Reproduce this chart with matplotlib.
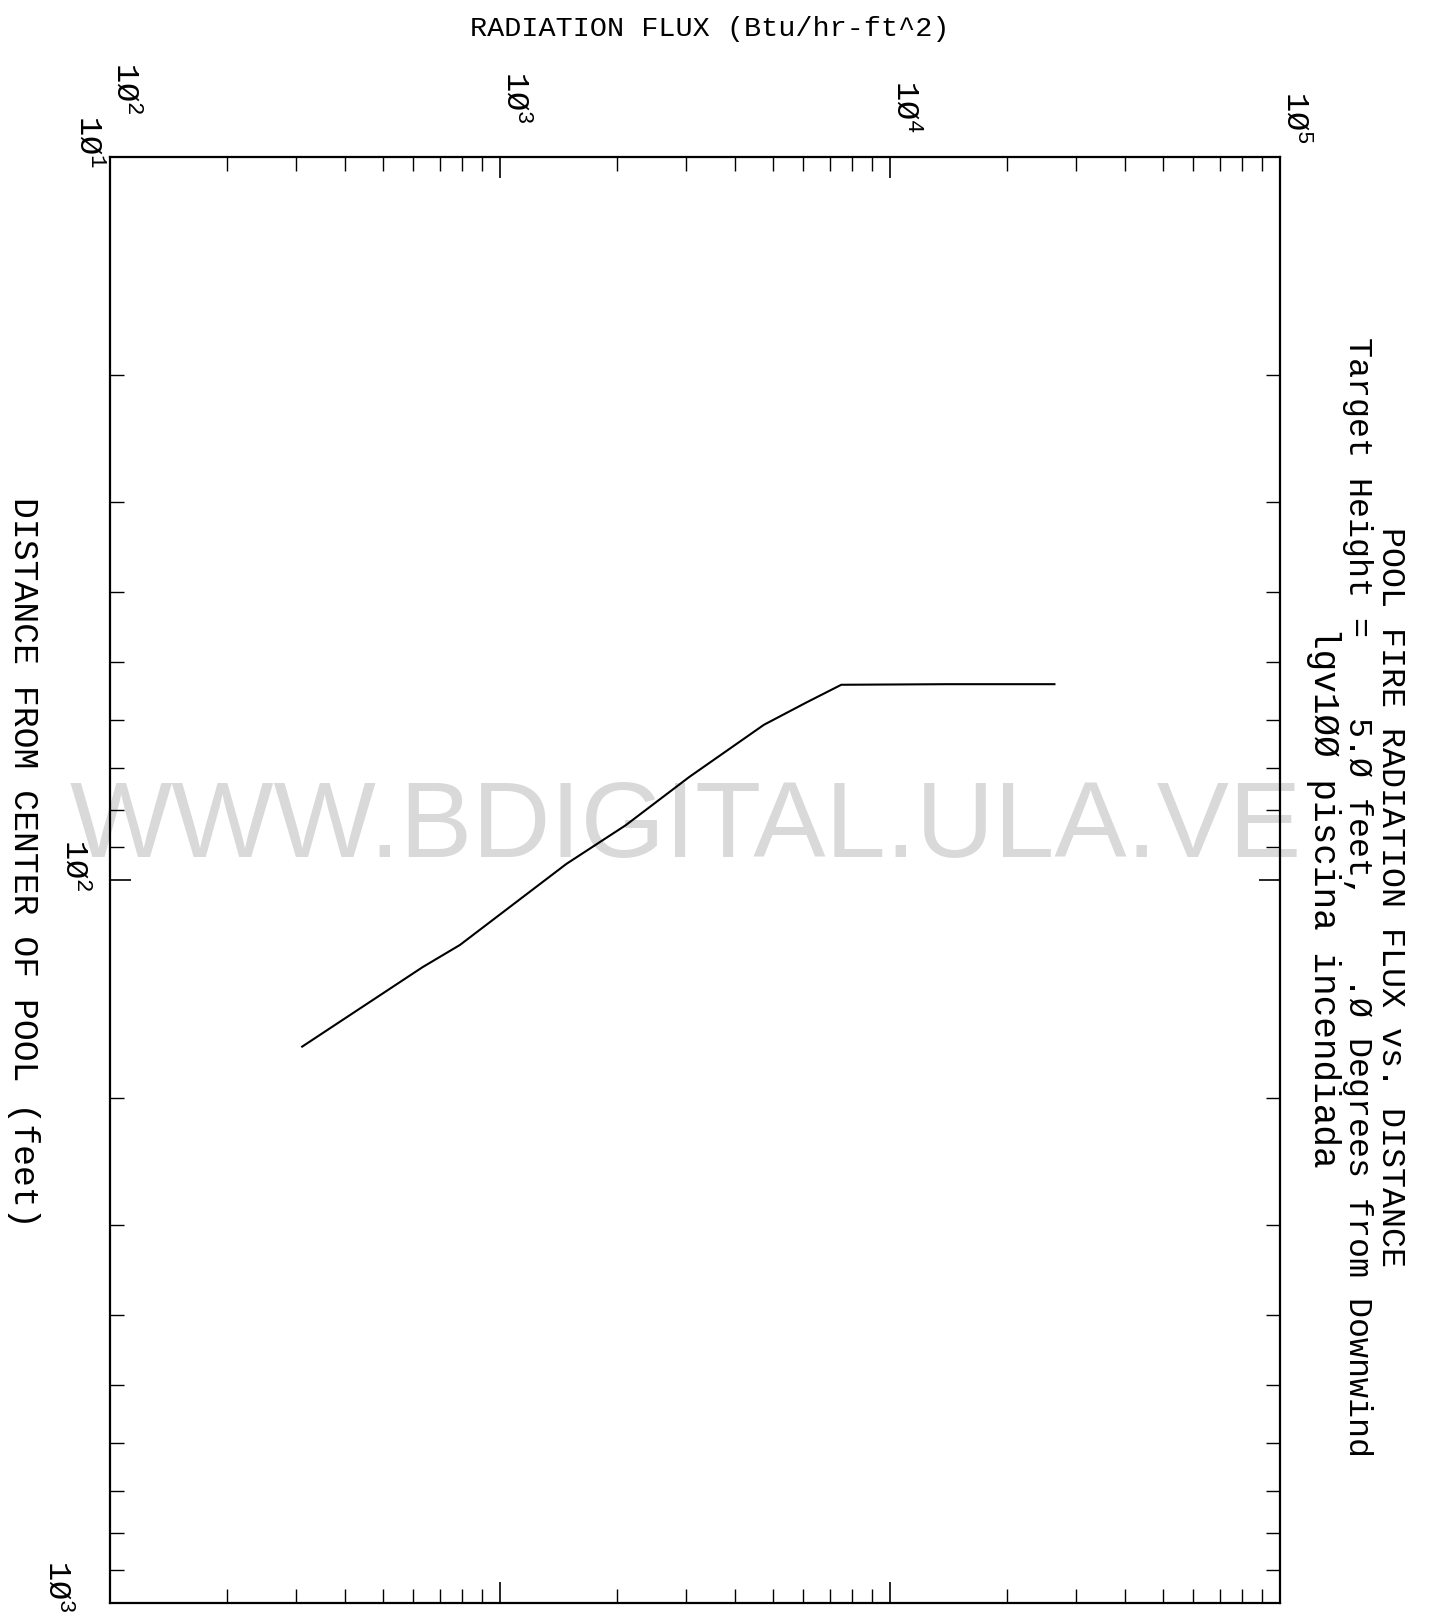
import numpy as np
import matplotlib
matplotlib.use("Agg")
import matplotlib.pyplot as plt
from matplotlib.ticker import LogLocator, NullFormatter, FixedLocator
from matplotlib.transforms import ScaledTranslation

plt.rcParams["mathtext.default"] = "regular"

# ---- data ----
flux_btu = [311, 633, 789, 1480, 2100, 3060, 4750, 6110, 7500, 14000, 26400]
distance_ft = [170, 132, 123, 95, 84, 72, 61, 56.8, 53.7, 53.6, 53.6]

flux_ticks = [1e2, 1e3, 1e4, 1e5]
flux_ticklabels = [r"$1Ø^{2}$", r"$1Ø^{3}$", r"$1Ø^{4}$", r"$1Ø^{5}$"]
dist_ticks = [1e1, 1e2, 1e3]
dist_ticklabels = [r"$1Ø^{1}$", r"$1Ø^{2}$", r"$1Ø^{3}$"]

title_lines = [
    "POOL FIRE RADIATION FLUX vs. DISTANCE",
    "Target Height =    5.Ø feet,    .Ø Degrees from Downwind",
    "lgv1ØØ piscina incendiada",
]
flux_label = "RADIATION FLUX (Btu/hr-ft^2)"
dist_label = "DISTANCE FROM CENTER OF POOL (feet)"
watermark = "WWW.BDIGITAL.ULA.VE"

MONO = ["Liberation Mono", "DejaVu Sans Mono"]
W, H = 1440, 1620

fig = plt.figure(figsize=(W / 100, H / 100), dpi=100)
fig.patch.set_facecolor("white")

left, right, top, bottom = 110, 1280, 157, 1603
ax = fig.add_axes([left / W, 1 - bottom / H, (right - left) / W, (bottom - top) / H])
ax.patch.set_alpha(0)

ax.set_xscale("log")
ax.set_yscale("log")
ax.set_xlim(1e2, 1e5)
ax.set_ylim(1e3, 1e1)

ax.plot(flux_btu, distance_ft, color="black", lw=1.5, zorder=3)

for sp in ax.spines.values():
    sp.set_linewidth(1.6)
    sp.set_color("black")

ax.xaxis.set_major_locator(FixedLocator(flux_ticks))
ax.xaxis.set_minor_locator(LogLocator(base=10, subs=np.arange(2, 10), numticks=30))
ax.xaxis.set_minor_formatter(NullFormatter())
ax.yaxis.set_major_locator(FixedLocator(dist_ticks))
ax.yaxis.set_minor_locator(LogLocator(base=10, subs=np.arange(2, 10), numticks=30))
ax.yaxis.set_minor_formatter(NullFormatter())

ax.tick_params(which="both", direction="in", top=True, bottom=True,
               left=True, right=True, labeltop=False, labelbottom=False,
               labelleft=False, labelright=False, color="black")
ax.tick_params(which="major", length=15, width=1.2)
ax.tick_params(which="minor", length=10, width=1.0)

# tick labels, placed like the rotated plotter labels
px = 1 / 100.0
flux_label_dy = [69, 60, 51, 40]          # pixels above the frame
for v, s, dy in zip(flux_ticks, flux_ticklabels, flux_label_dy):
    tr = ax.get_xaxis_transform() + ScaledTranslation(15 * px, dy * px, fig.dpi_scale_trans)
    ax.text(v, 1.0, s, transform=tr, rotation=-90, ha="center", va="center",
            fontsize=23, family=MONO, clip_on=False)

dist_label_dx = [-22, -36, -53]           # pixels left of the frame
dist_label_dy = [15, 15, 17]
for v, s, dx, dy in zip(dist_ticks, dist_ticklabels, dist_label_dx, dist_label_dy):
    tr = ax.get_yaxis_transform() + ScaledTranslation(dx * px, dy * px, fig.dpi_scale_trans)
    ax.text(0.0, v, s, transform=tr, rotation=-90, ha="center", va="center",
            fontsize=23, family=MONO, clip_on=False)

# axis labels
fig.text(710 / W, 1 - 29 / H, flux_label, ha="center", va="center",
         fontsize=20.5, family=MONO)
fig.text(23 / W, 1 - 862 / H, dist_label, rotation=-90, ha="center",
         va="center", fontsize=25, family=MONO)

# title block (rotated, on the right)
title_x = [1390, 1357, 1323]
title_fs = [24, 24, 26]
for txt, x, fs in zip(title_lines, title_x, title_fs):
    fig.text(x / W, 1 - 897 / H, txt, rotation=-90, ha="center", va="center",
             fontsize=fs, family=MONO)

# scan watermark
fig.text(686 / W, 1 - 857 / H, watermark, ha="center", va="baseline",
         fontsize=78, family="Liberation Sans", color="#d9d9d9", zorder=-1)

fig.savefig("out.png", dpi=100, facecolor="white")
